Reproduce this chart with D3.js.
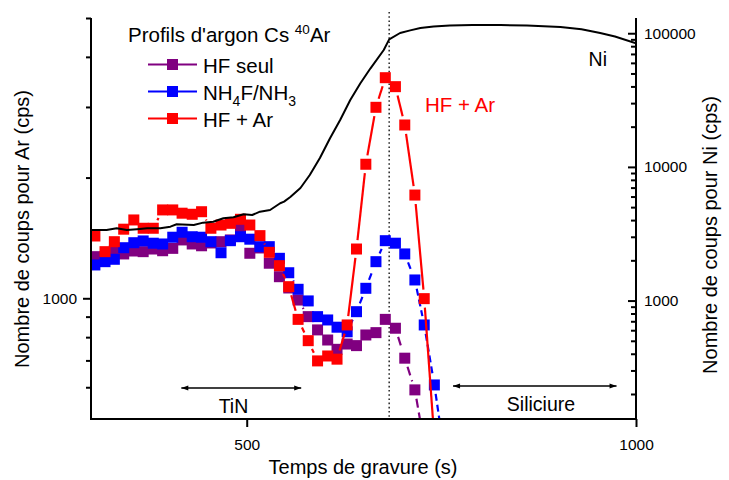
<!DOCTYPE html>
<html><head><meta charset="utf-8">
<script src="https://cdn.jsdelivr.net/npm/d3@7"></script>
<style>
body{margin:0;background:#fff}
svg{display:block}
text{font-family:"Liberation Sans",Arial,Helvetica,sans-serif;fill:#000}
</style>
</head><body>
<svg id="chart" width="729" height="480"></svg>
<script>
// ---- data ----
const times = [305, 318, 330, 342, 355, 367, 380, 392, 405, 417, 430, 442, 454, 467, 479, 492, 504, 517, 529, 542, 554, 566, 579, 591, 604, 616, 629, 641, 653, 666, 678, 691, 703, 716, 728, 741, 753];
const hfSeul = [1270, 1267, 1314, 1290, 1312, 1307, 1327, 1314, 1332, 1398, 1366, 1352, 1374, 1384, 1398, 1509, 1295, 1335, 1223, 1132, 1061, 990, 900, 834, 787, 746, 769, 762, 810, 821, 886, 842, 709, 591, 433];
const nh4fNh3 = [1211, 1234, 1251, 1337, 1376, 1390, 1372, 1366, 1420, 1461, 1424, 1420, 1384, 1299, 1392, 1424, 1404, 1345, 1345, 1258, 1158, 1053, 985, 900, 883, 847, 825, 926, 1059, 1234, 1392, 1372, 1290, 1111, 858, 608, 421];
const hfAr = [1430, 1307, 1384, 1487, 1568, 1495, 1495, 1661, 1661, 1630, 1620, 1644, 1495, 1523, 1538, 1574, 1523, 1433, 1302, 1206, 1069, 886, 784, 698, 718, 705, 858, 1327, 2159, 2994, 3549, 3371, 2705, 1809, 998, 446];
const niTimes = [300, 320, 333, 346, 359, 372, 389, 402, 410, 432, 444, 457, 470, 483, 496, 507, 517, 530, 543, 548, 556, 569, 581, 594, 607, 620, 633, 646, 659, 676, 683, 697, 710, 723, 740, 761, 790, 826, 860, 903, 930, 954, 973, 1000];
const niValues = [3373, 3373, 3475, 3373, 3420, 3475, 3475, 3572, 3723, 3680, 3828, 3890, 4130, 4198, 4420, 4365, 4624, 4761, 5343, 5494, 5953, 6950, 8695, 11660, 16360, 22420, 31670, 42220, 54660, 74900, 90000, 100400, 105000, 109400, 112500, 114300, 115200, 115200, 114000, 111300, 107000, 100400, 94600, 84050];
const xTicks = [500, 1000];
const arMajorTicks = [1000];
const arMinorTicks = [600, 700, 800, 900, 2000, 3000, 4000, 5000];
const niMajorTicks = [1000, 10000, 100000];
const niMinorTicks = [200, 300, 400, 500, 600, 700, 800, 900, 2000, 3000, 4000, 5000, 6000, 7000, 8000, 9000, 20000, 30000, 40000, 50000, 60000, 70000, 80000, 90000];
const interfaceTime = 683;
const tinSpan = [416, 570];
const tinLabelTime = 483;
const siliciureSpan = [765, 975];
const siliciureLabelTime = 878;

// ---- layout ----
const L = 91, R = 636, T = 18, B = 419;
const svg = d3.select("#chart");
const x = d3.scaleLinear().domain([300, 1000]).range([L, R]);
const yAr = d3.scaleLog().domain([500, 5000]).range([B, T]);
const yNi = d3.scaleLog().domain([130, 130000]).range([B, T]);

const defs = svg.append("defs");
defs.append("clipPath").attr("id", "plotclip")
  .append("rect").attr("x", L).attr("y", T - 10).attr("width", R - L).attr("height", B - T + 10);
defs.append("marker").attr("id", "arrow").attr("viewBox", "0 0 10 10")
  .attr("refX", 10).attr("refY", 5).attr("markerWidth", 9).attr("markerHeight", 7)
  .attr("markerUnits", "userSpaceOnUse")
  .attr("orient", "auto-start-reverse")
  .append("path").attr("d", "M0,1.5 L10,5 L0,8.5 Z").attr("fill", "#000");

const plot = svg.append("g").attr("clip-path", "url(#plotclip)");

// dotted interface line
plot.append("line")
  .attr("x1", x(interfaceTime)).attr("x2", x(interfaceTime))
  .attr("y1", T - 6).attr("y2", B)
  .attr("stroke", "#333").attr("stroke-width", 1.6).attr("stroke-dasharray", "1.6,2.6");

// series
const series = [
  {name: "HF seul", values: hfSeul, color: "#800080", dash: "9,5"},
  {name: "NH4F/NH3", values: nh4fNh3, color: "#0000FF", dash: "7,4"},
  {name: "HF + Ar", values: hfAr, color: "#FF0000", dash: null}
];
const GAP = 9, MS = 11;
series.forEach(s => {
  const pts = s.values.map((v, i) => [x(times[i]), yAr(v)]);
  const segs = [];
  for (let i = 0; i < pts.length - 1; i++) {
    const [x1, y1] = pts[i], [x2, y2] = pts[i + 1];
    const dx = x2 - x1, dy = y2 - y1, d = Math.hypot(dx, dy);
    if (d > 2 * GAP + 1) {
      const ux = dx / d, uy = dy / d;
      segs.push([x1 + ux * GAP, y1 + uy * GAP, x2 - ux * GAP, y2 - uy * GAP]);
    }
  }
  const g = plot.append("g");
  g.selectAll("line").data(segs).join("line")
    .attr("x1", d => d[0]).attr("y1", d => d[1]).attr("x2", d => d[2]).attr("y2", d => d[3])
    .attr("stroke", s.color).attr("stroke-width", 2.2)
    .attr("stroke-dasharray", s.dash);
  g.selectAll("rect").data(pts).join("rect")
    .attr("x", d => d[0] - MS / 2).attr("y", d => d[1] - MS / 2)
    .attr("width", MS).attr("height", MS)
    .attr("fill", s.color);
});

// Ni line
plot.append("path")
  .datum(niTimes.map((t, i) => [t, niValues[i]]))
  .attr("fill", "none").attr("stroke", "#000").attr("stroke-width", 2)
  .attr("stroke-linejoin", "round")
  .attr("d", d3.line().x(d => x(d[0])).y(d => yNi(d[1])));

// ---- axes ----
const tickFont = "15.5px";
const gx = svg.append("g").attr("transform", `translate(0,${B})`)
  .call(d3.axisBottom(x).tickValues(xTicks).tickSize(8).tickPadding(12).tickSizeOuter(0).tickFormat(d3.format("d")));
gx.select(".domain").remove();
gx.selectAll("line").attr("stroke", "#000").attr("stroke-width", 2);
gx.selectAll("text").style("font-size", tickFont);

const gyl = svg.append("g").attr("transform", `translate(${L},0)`)
  .call(d3.axisLeft(yAr).tickValues(arMajorTicks).tickSize(8).tickPadding(6).tickSizeOuter(0).tickFormat(d3.format("d")));
gyl.select(".domain").remove();
gyl.selectAll("line").attr("stroke", "#000").attr("stroke-width", 2);
gyl.selectAll("text").style("font-size", tickFont);
const gylm = svg.append("g").attr("transform", `translate(${L},0)`)
  .call(d3.axisLeft(yAr).tickValues(arMinorTicks).tickSize(5).tickSizeOuter(0).tickFormat(""));
gylm.select(".domain").remove();
gylm.selectAll("line").attr("stroke", "#000").attr("stroke-width", 2);

const gyr = svg.append("g").attr("transform", `translate(${R},0)`)
  .call(d3.axisRight(yNi).tickValues(niMajorTicks).tickSize(-8).tickPadding(8).tickSizeOuter(0).tickFormat(d3.format("d")));
gyr.select(".domain").remove();
gyr.selectAll("line").attr("stroke", "#000").attr("stroke-width", 2);
gyr.selectAll("text").style("font-size", tickFont);
const gyrm = svg.append("g").attr("transform", `translate(${R},0)`)
  .call(d3.axisRight(yNi).tickValues(niMinorTicks).tickSize(-5).tickSizeOuter(0).tickFormat(""));
gyrm.select(".domain").remove();
gyrm.selectAll("line").attr("stroke", "#000").attr("stroke-width", 2);

// axis lines
svg.append("line").attr("x1", L).attr("x2", L).attr("y1", T).attr("y2", B + 1).attr("stroke", "#000").attr("stroke-width", 2);
svg.append("line").attr("x1", R).attr("x2", R).attr("y1", T).attr("y2", B + 1).attr("stroke", "#000").attr("stroke-width", 2);
svg.append("line").attr("x1", L - 1).attr("x2", R + 1).attr("y1", B).attr("y2", B).attr("stroke", "#000").attr("stroke-width", 2);

// axis titles
svg.append("text").attr("x", 363).attr("y", 474).attr("text-anchor", "middle")
  .style("font-size", "20px").text("Temps de gravure (s)");
svg.append("text").attr("transform", "translate(29,229) rotate(-90)").attr("text-anchor", "middle")
  .style("font-size", "20px").text("Nombre de coups pour Ar (cps)");
svg.append("text").attr("transform", "translate(717,235) rotate(-90)").attr("text-anchor", "middle")
  .style("font-size", "20px").text("Nombre de coups pour Ni (cps)");

// annotations
const ann = svg.append("g");
const yTin = 388, ySil = 386;
ann.append("line").attr("x1", x(tinSpan[0])).attr("x2", x(tinSpan[1])).attr("y1", yTin).attr("y2", yTin)
  .attr("stroke", "#000").attr("stroke-width", 1.3)
  .attr("marker-start", "url(#arrow)").attr("marker-end", "url(#arrow)");
ann.append("text").attr("x", x(tinLabelTime)).attr("y", 413).attr("text-anchor", "middle")
  .style("font-size", "19.5px").text("TiN");
ann.append("line").attr("x1", x(siliciureSpan[0])).attr("x2", x(siliciureSpan[1])).attr("y1", ySil).attr("y2", ySil)
  .attr("stroke", "#000").attr("stroke-width", 1.3)
  .attr("marker-start", "url(#arrow)").attr("marker-end", "url(#arrow)");
ann.append("text").attr("x", x(siliciureLabelTime)).attr("y", 411).attr("text-anchor", "middle")
  .style("font-size", "19.5px").text("Siliciure");
ann.append("text").attr("x", 607).attr("y", 66).attr("text-anchor", "end")
  .style("font-size", "19.5px").text("Ni");
ann.append("text").attr("x", 425).attr("y", 112).style("fill", "#FF0000")
  .style("font-size", "20.5px").text("HF + Ar");

// legend
const lg = svg.append("g");
const title = lg.append("text").attr("x", 128).attr("y", 42).style("font-size", "20.5px");
title.append("tspan").text("Profils d'argon Cs ");
title.append("tspan").attr("dy", -8).style("font-size", "13.5px").text("40");
title.append("tspan").attr("dy", 8).text("Ar");
const rowsY = [64.5, 91.5, 118.5];
series.forEach((s, i) => {
  const yy = rowsY[i];
  lg.append("line").attr("x1", 148).attr("x2", 197).attr("y1", yy).attr("y2", yy)
    .attr("stroke", s.color).attr("stroke-width", 2);
  lg.append("rect").attr("x", 172.5 - MS / 2).attr("y", yy - MS / 2).attr("width", MS).attr("height", MS)
    .attr("fill", s.color);
  const t = lg.append("text").attr("x", 203).attr("y", yy + 8).style("font-size", "20.5px");
  if (s.name === "NH4F/NH3") {
    t.append("tspan").text("NH");
    t.append("tspan").attr("dy", 6).style("font-size", "14px").text("4");
    t.append("tspan").attr("dy", -6).text("F/NH");
    t.append("tspan").attr("dy", 6).style("font-size", "14px").text("3");
  } else {
    t.text(s.name);
  }
});
</script>
</body></html>
